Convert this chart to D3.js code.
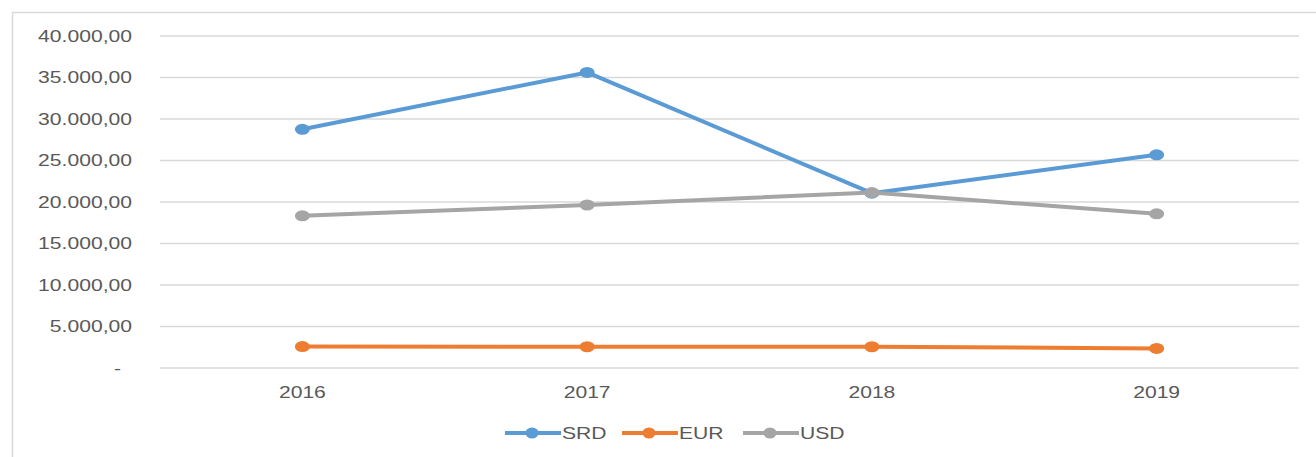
<!DOCTYPE html>
<html>
<head>
<meta charset="utf-8">
<script src="https://cdn.jsdelivr.net/npm/d3@7"></script>
<style>
  body { margin: 0; background: #fff; }
  text { font-family: "Liberation Sans", "DejaVu Sans", sans-serif; fill: #595959; }
</style>
</head>
<body>
<svg id="chart" width="1316" height="457"></svg>
<script>
const years = ["2016", "2017", "2018", "2019"];
const srd = [28700, 35550, 21000, 25620];
const eur = [2520, 2500, 2500, 2300];
const usd = [18280, 19580, 21080, 18520];
const seriesNames = ["SRD", "EUR", "USD"];
const seriesColors = ["#5B9BD5", "#ED7D31", "#A5A5A5"];
const yTicks = [0, 5000, 10000, 15000, 20000, 25000, 30000, 35000, 40000];

const svg = d3.select("#chart");
const margin = {left: 160, right: 17, top: 35.5, bottom: 89.5};
const width = 1316 - margin.left - margin.right;
const height = 457 - margin.top - margin.bottom;
const stretch = 1.28;

// outer chart frame (Excel chart area)
svg.append("rect")
  .attr("x", 12.5).attr("y", 12.5)
  .attr("width", 1316).attr("height", 500)
  .attr("fill", "none").attr("stroke", "#d9d9d9").attr("stroke-width", 1.5);

const g = svg.append("g").attr("transform", "translate(" + margin.left + "," + margin.top + ")");

const x = d3.scaleBand().domain(years).range([0, width]);
const y = d3.scaleLinear().domain([0, 40000]).range([height, 0]);

const fmt = v => v === 0 ? "-" : d3.format(",.2f")(v).replace(/,/g, "#").replace(".", ",").replace(/#/g, ".");

// gridlines
g.append("g")
  .call(d3.axisLeft(y).tickValues(yTicks).tickSize(-width).tickFormat(""))
  .call(a => a.select(".domain").remove())
  .call(a => a.selectAll("line").attr("stroke", "#d9d9d9").attr("stroke-width", 1.5));

// y labels
g.append("g").selectAll("text")
  .data(yTicks)
  .join("text")
  .attr("text-anchor", "end")
  .attr("font-size", "16.5px")
  .attr("transform", d => "translate(" + (d === 0 ? -39 : -28) + "," + (y(d) + 6) + ") scale(" + stretch + ",1)")
  .text(fmt);

// x labels
g.append("g").selectAll("text")
  .data(years)
  .join("text")
  .attr("text-anchor", "middle")
  .attr("font-size", "16.5px")
  .attr("transform", d => "translate(" + (x(d) + x.bandwidth() / 2) + "," + (height + 30) + ") scale(" + stretch + ",1)")
  .text(d => d);

const series = [srd, eur, usd];
const line = d3.line().x((d, i) => x(years[i]) + x.bandwidth() / 2).y(d => y(d));

// draw in order EUR, SRD, USD so grey sits on top at crossing
[1, 0, 2].forEach(k => {
  g.append("path")
    .datum(series[k])
    .attr("fill", "none")
    .attr("stroke", seriesColors[k])
    .attr("stroke-width", 4)
    .attr("stroke-linejoin", "round")
    .attr("d", line);
  g.append("g").selectAll("ellipse")
    .data(series[k])
    .join("ellipse")
    .attr("cx", (d, i) => x(years[i]) + x.bandwidth() / 2)
    .attr("cy", d => y(d))
    .attr("rx", 7.5)
    .attr("ry", 5.5)
    .attr("fill", seriesColors[k]);
});

// legend
const legendX = [505, 622, 743];
const legend = svg.append("g");
seriesNames.forEach((name, k) => {
  const lx = legendX[k];
  legend.append("line")
    .attr("x1", lx).attr("x2", lx + 56)
    .attr("y1", 433).attr("y2", 433)
    .attr("stroke", seriesColors[k]).attr("stroke-width", 4);
  legend.append("ellipse")
    .attr("cx", lx + 27).attr("cy", 433)
    .attr("rx", 6.5).attr("ry", 5.5)
    .attr("fill", seriesColors[k]);
  legend.append("text")
    .attr("font-size", "16.5px")
    .attr("transform", "translate(" + (lx + 57) + ",439) scale(" + stretch + ",1)")
    .text(name);
});
</script>
</body>
</html>
